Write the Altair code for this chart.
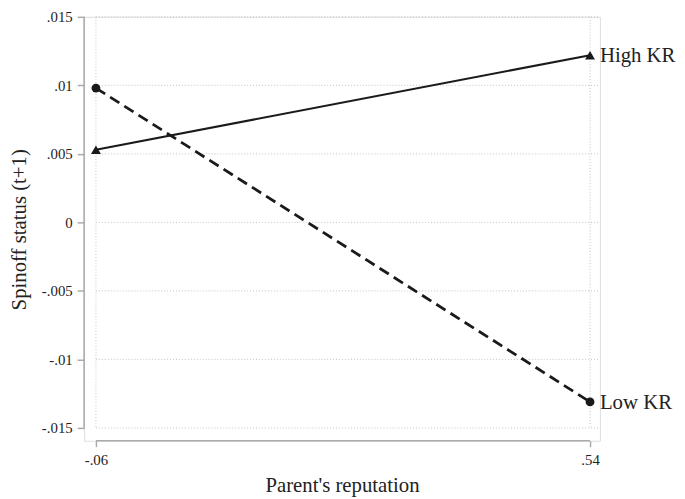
import altair as alt
import pandas as pd

# ---- data ----
x_vals = [-0.06, 0.54]
high_kr = [0.0053, 0.0122]
low_kr = [0.0098, -0.0131]
series_labels = ["High KR", "Low KR"]

x_ticks = [-0.06, 0.54]
x_tick_labels = ["-.06", ".54"]
y_ticks = [-0.015, -0.01, -0.005, 0, 0.005, 0.01, 0.015]
y_tick_labels = ["-.015", "-.01", "-.005", "0", ".005", ".01", ".015"]

x_title = "Parent's reputation"
y_title = "Spinoff status (t+1)"

# ---- layout ----
W, H = 522, 429
X_DOM = [-0.0744, 0.552]
Y_DOM = [-0.015937, 0.015]
FONT = "Liberation Serif"
AX_GRAY = "#ababab"
GRID_GRAY = "#c4c4c4"


def label_expr(vals, labels):
    expr = "''"
    for v, l in reversed(list(zip(vals, labels))):
        expr = f"datum.value == {v} ? '{l}' : ({expr})"
    return expr


xs = alt.Scale(domain=X_DOM, nice=False, zero=False)
ys = alt.Scale(domain=Y_DOM, nice=False, zero=False)

df_high = pd.DataFrame({"x": x_vals, "y": high_kr})
df_low = pd.DataFrame({"x": x_vals, "y": low_kr})
df_lab = pd.DataFrame({"x": [x_vals[-1], x_vals[-1]],
                       "y": [high_kr[-1], low_kr[-1]],
                       "t": series_labels})

df_hgrid = pd.DataFrame({"y": y_ticks, "x": [x_ticks[0]] * len(y_ticks),
                         "x2": [X_DOM[1]] * len(y_ticks)})
df_vgrid = pd.DataFrame({"x": x_ticks, "y": [Y_DOM[1]] * len(x_ticks),
                         "y2": [y_ticks[0]] * len(x_ticks)})
df_yaxis = pd.DataFrame({"x": [X_DOM[0]], "y": [y_ticks[0]], "y2": [y_ticks[-1]]})
df_xaxis = pd.DataFrame({"y": [Y_DOM[0]], "x": [x_ticks[0]], "x2": [x_ticks[-1]]})

x_axis = alt.Axis(values=x_ticks, labelExpr=label_expr(x_ticks, x_tick_labels),
                  domain=False, grid=False, tickColor=AX_GRAY, tickWidth=1.5,
                  tickSize=6, labelPadding=6, labelFontSize=15, labelColor="#222",
                  labelFont=FONT, title=x_title, titleFont=FONT, titleFontSize=21,
                  titleFontWeight="normal", titleColor="#222",
                  titleBaseline="alphabetic", titleY=51, titleX=W / 2)
y_axis = alt.Axis(values=y_ticks, labelExpr=label_expr(y_ticks, y_tick_labels),
                  domain=False, grid=False, tickColor=AX_GRAY, tickWidth=1.5,
                  tickSize=7, labelPadding=5, labelFontSize=15, labelColor="#222",
                  labelFont=FONT, title=y_title, titleFont=FONT, titleFontSize=21,
                  titleFontWeight="normal", titleColor="#222",
                  titleAngle=270, titleBaseline="alphabetic", titleAlign="center",
                  titleX=-59, titleY=215)

hgrid = alt.Chart(df_hgrid).mark_rule(color=GRID_GRAY, strokeDash=[1, 2], strokeWidth=1).encode(
    x=alt.X("x:Q", scale=xs, axis=x_axis), x2="x2:Q",
    y=alt.Y("y:Q", scale=ys, axis=y_axis))
vgrid = alt.Chart(df_vgrid).mark_rule(color=GRID_GRAY, strokeDash=[1, 2], strokeWidth=1).encode(
    x=alt.X("x:Q", scale=xs), y=alt.Y("y:Q", scale=ys), y2="y2:Q")
yaxis_line = alt.Chart(df_yaxis).mark_rule(color=AX_GRAY, strokeWidth=1.6).encode(
    x=alt.X("x:Q", scale=xs), y=alt.Y("y:Q", scale=ys), y2="y2:Q")
xaxis_line = alt.Chart(df_xaxis).mark_rule(color=AX_GRAY, strokeWidth=1.6).encode(
    y=alt.Y("y:Q", scale=ys), x=alt.X("x:Q", scale=xs), x2="x2:Q")

line_high = alt.Chart(df_high).mark_line(color="#1a1a1a", strokeWidth=2.2).encode(
    x=alt.X("x:Q", scale=xs), y=alt.Y("y:Q", scale=ys))
pts_high = alt.Chart(df_high).mark_point(shape="triangle-up", filled=True, size=100,
                                         color="#1a1a1a", opacity=1).encode(
    x=alt.X("x:Q", scale=xs), y=alt.Y("y:Q", scale=ys))
line_low = alt.Chart(df_low).mark_line(color="#1a1a1a", strokeWidth=2.8,
                                       strokeDash=[11, 6]).encode(
    x=alt.X("x:Q", scale=xs), y=alt.Y("y:Q", scale=ys))
pts_low = alt.Chart(df_low).mark_point(shape="circle", filled=True, size=80,
                                       color="#1a1a1a", opacity=1).encode(
    x=alt.X("x:Q", scale=xs), y=alt.Y("y:Q", scale=ys))
labels = alt.Chart(df_lab).mark_text(align="left", baseline="middle", dx=10, dy=1,
                                     font=FONT, fontSize=21, color="#222").encode(
    x=alt.X("x:Q", scale=xs), y=alt.Y("y:Q", scale=ys), text="t:N")

chart = alt.layer(hgrid, vgrid, yaxis_line, xaxis_line,
                  line_high, line_low, pts_high, pts_low, labels).properties(
    width=W, height=H,
    autosize=alt.AutoSizeParams(type="none"),
    padding={"left": 77, "top": 6, "right": 78, "bottom": 56},
).configure_view(stroke=None).configure(background="white")

chart.save("out.html", embed_options={"renderer": "svg", "actions": False})
